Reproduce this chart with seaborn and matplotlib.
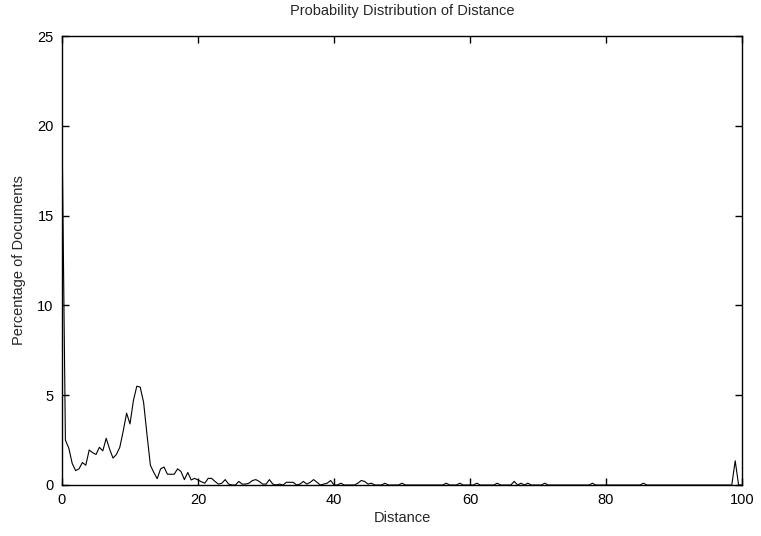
import matplotlib
matplotlib.use("Agg")
import matplotlib.pyplot as plt
import seaborn as sns
import pandas as pd

# Distance values (x) and percentage of documents (y)
distance = [
    0, 0.5, 1, 1.5, 2, 2.5, 3, 3.5, 4, 4.5, 5, 5.5, 6, 6.5, 7, 7.5, 8, 8.5, 9, 9.5,
    10, 10.5, 11, 11.5, 12, 12.5, 13, 13.5, 14, 14.5, 15, 15.5, 16, 16.5, 17, 17.5,
    18, 18.5, 19, 19.5, 20, 20.5, 21, 21.5, 22, 22.5, 23, 23.5, 24, 24.5, 25, 25.5,
    26, 26.5, 27, 27.5, 28, 28.5, 29, 29.5, 30, 30.5, 31, 31.5, 32, 32.5, 33, 33.5,
    34, 34.5, 35, 35.5, 36, 36.5, 37, 37.5, 38, 38.5, 39, 39.5, 40, 40.5, 41, 41.5,
    43, 43.5, 44, 44.5, 45, 45.5, 46, 47, 47.5, 48, 49.5, 50, 50.5, 56, 56.5, 57,
    58, 58.5, 59, 60.5, 61, 61.5, 63.5, 64, 64.5, 66, 66.5, 67, 67.5, 68, 68.5, 69,
    70.5, 71, 71.5, 77.5, 78, 78.5, 85, 85.5, 86, 98.5, 99, 99.5, 100,
]
percentage = [
    20.0, 2.5, 2.05, 1.2, 0.8, 0.9, 1.25, 1.1, 1.95, 1.8, 1.7, 2.1, 1.9, 2.6, 2.0, 1.5, 1.7, 2.1, 3.0, 4.0,
    3.4, 4.7, 5.5, 5.45, 4.6, 2.8, 1.1, 0.7, 0.35, 0.9, 1.0, 0.6, 0.6, 0.6, 0.9, 0.75,
    0.3, 0.7, 0.28, 0.37, 0.28, 0.18, 0.1, 0.37, 0.37, 0.2, 0.05, 0.1, 0.3, 0.05, 0.0, 0.0,
    0.2, 0.05, 0.05, 0.1, 0.25, 0.3, 0.2, 0.05, 0.05, 0.3, 0.05, 0.0, 0.05, 0.0, 0.15, 0.15,
    0.15, 0.0, 0.05, 0.2, 0.05, 0.15, 0.3, 0.15, 0.0, 0.05, 0.1, 0.25, 0.0, 0.0, 0.1, 0.0,
    0.0, 0.1, 0.25, 0.2, 0.05, 0.1, 0.0, 0.0, 0.1, 0.0, 0.0, 0.1, 0.0, 0.0, 0.1, 0.0,
    0.0, 0.1, 0.0, 0.0, 0.1, 0.0, 0.0, 0.1, 0.0, 0.0, 0.2, 0.0, 0.1, 0.0, 0.1, 0.0,
    0.0, 0.1, 0.0, 0.0, 0.1, 0.0, 0.0, 0.1, 0.0, 0.0, 1.35, 0.0, 0.0,
]
x_ticks = [0, 20, 40, 60, 80, 100]
y_ticks = [0, 5, 10, 15, 20, 25]

df = pd.DataFrame({"Distance": distance, "Percentage": percentage})

sns.set_style("ticks")
plt.rcParams["font.family"] = ["Liberation Sans", "DejaVu Sans"]
plt.rcParams["font.size"] = 10.5

fig = plt.figure(figsize=(7.61, 5.36), dpi=100)
ax = fig.add_axes([62 / 761, 1 - 485 / 536, (742 - 62) / 761, (485 - 36) / 536])

sns.lineplot(data=df, x="Distance", y="Percentage", ax=ax, color="black",
             linewidth=0.8, estimator=None, sort=False)

ax.set_xlim(0, 100)
ax.set_ylim(0, 25)
ax.set_xticks(x_ticks)
ax.set_yticks(y_ticks)
ax.tick_params(direction="in", length=5, width=1, top=True, right=True,
               labelsize=10.5, colors="black", pad=6)
for s in ax.spines.values():
    s.set_visible(True)
    s.set_linewidth(1.0)
    s.set_color("black")

ax.set_title("Probability Distribution of Distance", fontsize=10.5, pad=15)
ax.set_xlabel("Distance", fontsize=10.5, labelpad=3)
ax.set_ylabel("Percentage of Documents", fontsize=10.5, labelpad=8)

fig.savefig("out.png", dpi=100, facecolor="white")
